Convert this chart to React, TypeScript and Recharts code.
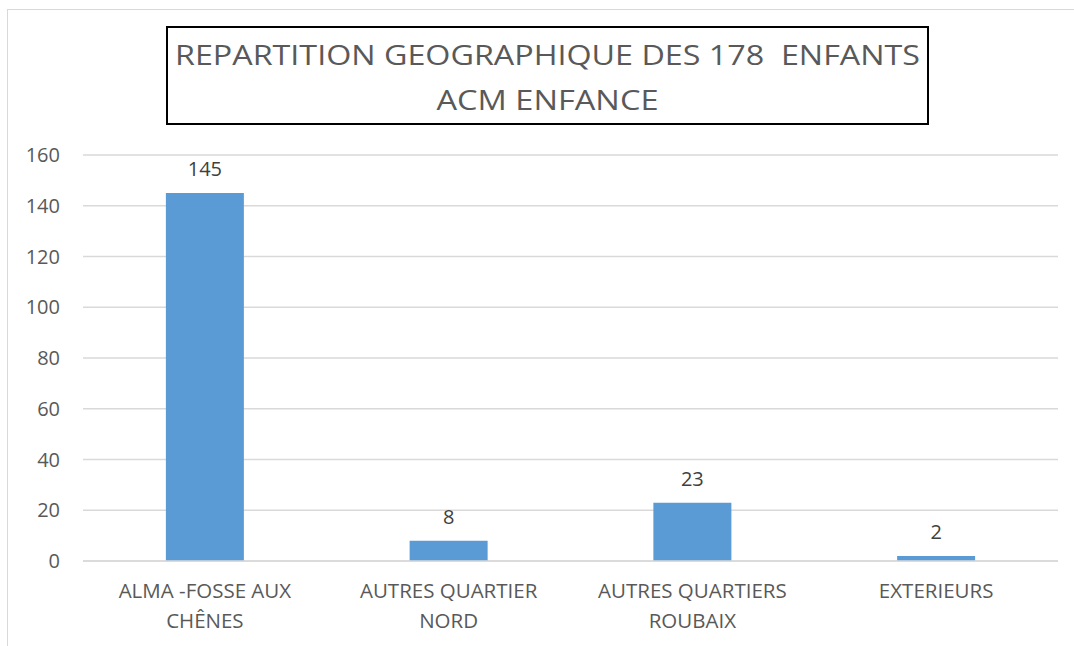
import React from "react";
import { BarChart, Bar, XAxis, YAxis, CartesianGrid, LabelList } from "recharts";

const categories = [
  "ALMA -FOSSE AUX CHÊNES",
  "AUTRES QUARTIER NORD",
  "AUTRES QUARTIERS ROUBAIX",
  "EXTERIEURS",
];
const values = [145, 8, 23, 2];
const yTicks = [0, 20, 40, 60, 80, 100, 120, 140, 160];
const titleLines = ["REPARTITION GEOGRAPHIQUE DES 178  ENFANTS", "ACM ENFANCE"];

const data = categories.map((c, i) => ({ name: c, value: values[i] }));

const FONT = "'Open Sans', sans-serif";
const TEXT = "#595959";

function wrap(s: string, max: number): string[] {
  const words = s.split(" ");
  const lines: string[] = [];
  let cur = "";
  for (const w of words) {
    const t = cur ? cur + " " + w : w;
    if (t.length > max && cur) {
      lines.push(cur);
      cur = w;
    } else cur = t;
  }
  if (cur) lines.push(cur);
  return lines;
}

const XTick = (props: any) => {
  const { x, y, payload } = props;
  const lines = wrap(String(payload.value), 16);
  return (
    <text x={x} y={y} textAnchor="middle" fill={TEXT} fontSize={20.5} fontFamily={FONT}>
      {lines.map((l, i) => (
        <tspan key={i} x={x} dy={i === 0 ? 29 : 30}>
          {l}
        </tspan>
      ))}
    </text>
  );
};

export default function App() {
  return (
    <div style={{ position: "absolute", left: 0, top: 0, width: 1074, height: 646, background: "#fff", overflow: "hidden" }}>
      <div
        style={{
          position: "absolute",
          left: 7,
          top: 9,
          width: 1080,
          height: 660,
          border: "1px solid #d9d9d9",
        }}
      />
      <BarChart
        width={1074}
        height={646}
        data={data}
        margin={{ top: 155, right: 16, bottom: 55, left: 0 }}
        barCategoryGap="34%"
        style={{ position: "absolute", left: 0, top: 0 }}
      >
        <CartesianGrid vertical={false} stroke="#d9d9d9" strokeWidth={1.5} />
        <XAxis
          dataKey="name"
          axisLine={{ stroke: "#d9d9d9", strokeWidth: 1.5 }}
          tickLine={false}
          interval={0}
          tick={<XTick />}
        />
        <YAxis
          width={83}
          domain={[0, 160]}
          ticks={yTicks}
          axisLine={false}
          tickLine={false}
          tickSize={0}
          tickMargin={23}
          tick={{ fill: TEXT, fontSize: 20, fontFamily: FONT }}
        />
        <Bar dataKey="value" fill="#5B9BD5" isAnimationActive={false}>
          <LabelList dataKey="value" position="top" offset={17} fill="#404040" fontSize={20} fontFamily={FONT} />
        </Bar>
      </BarChart>
      <div
        style={{
          position: "absolute",
          left: 166,
          top: 26,
          width: 763,
          height: 99,
          border: "2px solid #000",
          boxSizing: "border-box",
          background: "#fff",
        }}
      >
        <svg width={759} height={95} style={{ display: "block" }}>
          <text
            x={379.5}
            y={37}
            textAnchor="middle"
            fill={TEXT}
            fontSize={28}
            fontFamily={FONT}
            textLength={745}
            lengthAdjust="spacingAndGlyphs"
            style={{ whiteSpace: "pre" }}
          >
            {titleLines[0]}
          </text>
          <text x={379.5} y={82} textAnchor="middle" fill={TEXT} fontSize={28} fontFamily={FONT} textLength={222} lengthAdjust="spacingAndGlyphs">
            {titleLines[1]}
          </text>
        </svg>
      </div>
    </div>
  );
}
